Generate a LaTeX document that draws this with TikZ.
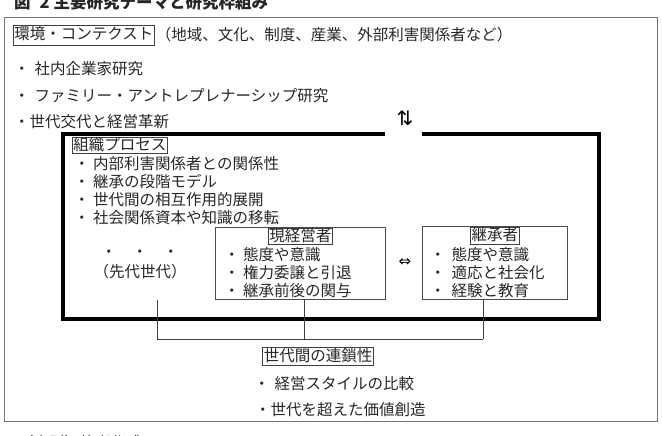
\documentclass[tikz,border=0pt]{standalone}
\usepackage{fontspec}
\newfontfamily\jp{Noto Sans CJK JP}
\newfontfamily\sym{DejaVu Sans}
\begin{document}
\begin{tikzpicture}[x=1pt,y=1pt,
  txt/.style={font=\jp\fontsize{15.5}{18}\selectfont, text=black!85, inner sep=0pt, anchor=west},
  tbox/.style={txt, draw=black!75, line width=0.7pt, inner xsep=1pt, inner ysep=1pt, text height=13pt, text depth=3pt},
  frame/.style={draw=black!70, line width=0.7pt},
  conn/.style={draw=black!75, line width=0.7pt},
  heavy/.style={line width=3.4pt, line join=miter},
  symb/.style={font=\sym\fontsize{15}{17}\selectfont, inner sep=0pt}
]
\useasboundingbox (0,0) rectangle (662,-436);
% title (cut at top)
\node[txt, font=\jp\bfseries\fontsize{16.5}{19}\selectfont] (title) at (14,-2) {図\hspace{9pt}2\hspace{4pt}主要研究テーマと研究枠組み};
% outer frame
\draw[draw=black!55, line width=0.8pt] (4,-17) rectangle (657,-421);
% environment
\node[tbox, inner ysep=2pt] (env) at (13,-35) {環境・コンテクスト};
\node[txt] (envt) at ([xshift=1pt]env.east) {（地域、文化、制度、産業、外部利害関係者など）};
\node[txt] (b1) at (14,-69) {・\hspace{5pt}社内企業家研究};
\node[txt] (b2) at (14,-96) {・\hspace{5pt}ファミリー・アントレプレナーシップ研究};
\node[txt] (b3) at (14,-122) {・世代交代と経営革新};
\node[symb, font=\sym\fontsize{20}{22}\selectfont] (ud) at (405,-118) {⇅};
% organisation box (thick, gap at top)
\draw[heavy] (385,-134) -- (63,-134) -- (63,-319) -- (599,-319) -- (599,-134) -- (422,-134);
\node[tbox, inner ysep=0.3pt] (org) at (72,-145.5) {組織プロセス};
\node[txt] (o1) at (74,-164) {・\hspace{3.5pt}内部利害関係者との関係性};
\node[txt] (o2) at (74,-182) {・\hspace{3.5pt}継承の段階モデル};
\node[txt] (o3) at (74,-200) {・\hspace{3.5pt}世代間の相互作用的展開};
\node[txt] (o4) at (74,-218) {・\hspace{3.5pt}社会関係資本や知識の移転};
% previous generation
\node[txt] (dots) at (101,-254) {・\hspace{15.5pt}・\hspace{15.5pt}・};
\node[txt, anchor=center] (sendai) at (140,-272) {（先代世代）};
% current manager
\node[frame, draw, minimum width=170, minimum height=72, anchor=north west, inner sep=0pt] (gen) at (215,-227) {};
\node[tbox, inner ysep=0.3pt, anchor=north] (gent) at ([yshift=-0.5pt]gen.north) {現経営者};
\node[txt] (g1) at (224,-255) {・\hspace{3.5pt}態度や意識};
\node[txt] (g2) at (224,-273) {・\hspace{3.5pt}権力委譲と引退};
\node[txt] (g3) at (224,-291) {・\hspace{3.5pt}継承前後の関与};
\node[symb] (lr) at (405,-263) {⇔};
% successor
\node[frame, draw, minimum width=145, minimum height=73, anchor=north west, inner sep=0pt] (kei) at (422,-226) {};
\node[tbox, inner ysep=0.3pt, anchor=north] (keit) at ([yshift=-1pt]kei.north) {継承者};
\node[txt] (k1) at (430,-255) {・\hspace{6pt}態度や意識};
\node[txt] (k2) at (430,-273) {・\hspace{6pt}適応と社会化};
\node[txt] (k3) at (430,-291) {・\hspace{6pt}経験と教育};
% bracket connectors
\coordinate (s0) at (157,-300);
\coordinate (j1) at (157,-339);
\coordinate (jm) at (304,-339);
\coordinate (j3) at (483,-339);
\draw[conn] (s0) -- (j1) -- (j3);
\draw[conn] (gen.south -| jm) -- (jm);
\draw[conn] (kei.south -| j3) -- (j3);
% chain
\node[tbox, anchor=center] (chain) at (318,-356.5) {世代間の連鎖性};
\node[txt] (c1) at (254,-384) {・\hspace{5pt}経営スタイルの比較};
\node[txt] (c2) at (255,-410) {・世代を超えた価値創造};
% source (cut at bottom)
\node[txt] (src) at (18,-443) {（出所）筆者作成};
\end{tikzpicture}
\end{document}
